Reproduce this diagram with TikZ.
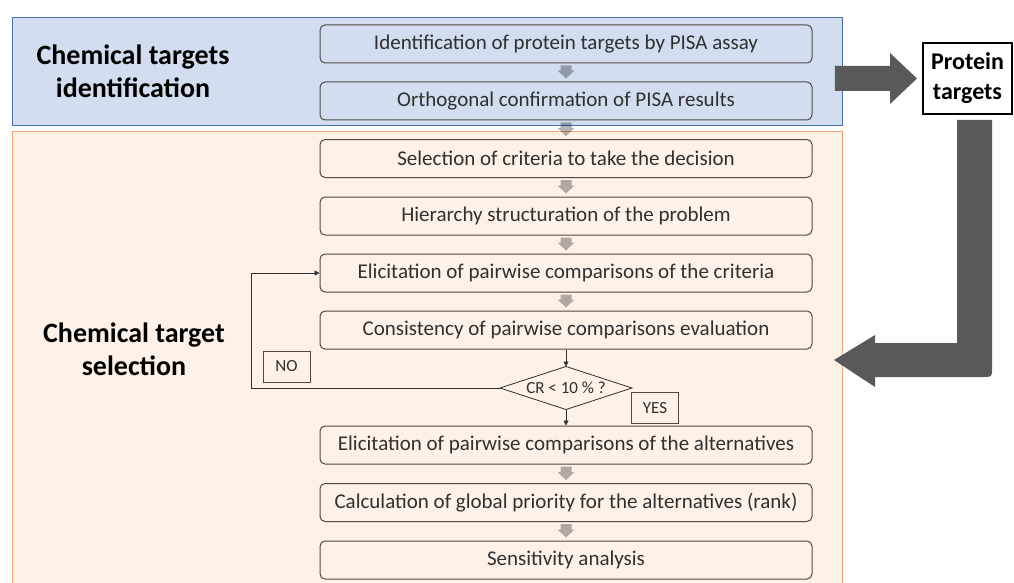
\documentclass[tikz,border=0pt]{standalone}
\usepackage{fontspec}
\setmainfont{Carlito}
\usetikzlibrary{calc,arrows.meta}
\definecolor{bluefill}{HTML}{D2DDF0}
\definecolor{blueline}{HTML}{4A6FB5}
\definecolor{orfill}{HTML}{FDF1E8}
\definecolor{orline}{HTML}{F4A46C}
\definecolor{boxline}{HTML}{4F4A45}
\definecolor{txt}{HTML}{303030}
\definecolor{arrgray}{HTML}{595959}
\tikzset{
  stepbox/.style={draw=boxline, line width=1pt, rounded corners=5pt, minimum width=492pt,
    minimum height=38pt, inner sep=0pt, text=txt, font=\fontsize{21}{25}\selectfont},
  tagbox/.style={draw=boxline, line width=0.8pt, minimum width=47pt, minimum height=31pt,
    inner sep=0pt, text=txt, font=\fontsize{17}{20}\selectfont},
  biglabel/.style={font=\bfseries\fontsize{28}{33}\selectfont, align=center, text=black},
  smallarr/.style={fill=black, fill opacity=0.3},
  bigarr/.style={fill=arrgray},
  flowline/.style={draw=txt, line width=0.8pt},
  tipsmall/.style={-{Triangle[width=5pt,length=5pt]}}
}
\newcommand\downblk[2]{%
  \fill[smallarr] ($(#1)+(-5.5,2)$) -- ($(#1)+(5.5,2)$) -- ($(#2)+(5.5,-11)$)
   -- ($(#2)+(8.5,-11)$) -- ($(#2)+(0,-3)$) -- ($(#2)+(-8.5,-11)$)
   -- ($(#2)+(-5.5,-11)$) -- cycle;}
\begin{document}
\begin{tikzpicture}[x=1pt,y=-1pt]
\useasboundingbox (0,0) rectangle (1014,583);
% regions
\node[draw=blueline, fill=bluefill, line width=0.8pt, minimum width=830pt, minimum height=108pt,
  inner sep=0pt, anchor=north west] (blue) at (12,17) {};
\fill[orfill] (12,131.5) rectangle (842,590);
\draw[orline, line width=0.8pt] (12,590) -- (12,131.5) -- (842,131.5) -- (842,590);
\coordinate (orange) at (842,360);
% labels
\node[biglabel] (lab1) at (133,71.5) {Chemical targets\\identification};
\node[biglabel] (lab2) at (134,349.5) {Chemical target\\selection};
% boxes
\node[stepbox] (b1) at (566,44)    {Identification of protein targets by PISA assay};
\node[stepbox] (b2) at (566,101)   {Orthogonal confirmation of PISA results};
\node[stepbox] (b3) at (566,158.5) {Selection of criteria to take the decision};
\node[stepbox] (b4) at (566,216)   {Hierarchy structuration of the problem};
\node[stepbox] (b5) at (566,273)   {Elicitation of pairwise comparisons of the criteria};
\node[stepbox] (b6) at (566,330)   {Consistency of pairwise comparisons evaluation};
\node[stepbox] (b7) at (566,445)   {Elicitation of pairwise comparisons of the alternatives};
\node[stepbox] (b8) at (566,502.5) {Calculation of global priority for the alternatives (rank)};
\node[stepbox] (b9) at (566,560)   {Sensitivity analysis};
% small block arrows
\downblk{b1.south}{b2.north}
\downblk{b2.south}{b3.north}
\downblk{b3.south}{b4.north}
\downblk{b4.south}{b5.north}
\downblk{b5.south}{b6.north}
\downblk{b7.south}{b8.north}
\downblk{b8.south}{b9.north}
% decision
\node[inner sep=0pt, text=txt, font=\fontsize{17}{20}\selectfont] (cr) at (566,388) {CR < 10 \% ?};
\coordinate (crT) at (566,366.5);
\coordinate (crB) at (566,409.5);
\coordinate (crL) at (500,388);
\coordinate (crR) at (632,388);
\draw[flowline] (crT) -- (crR) -- (crB) -- (crL) -- cycle;
\draw[flowline, tipsmall] (b6.south) -- (crT);
\draw[flowline, tipsmall] (crB) -- (b7.north);
\draw[flowline, tipsmall] (crL) -| ($(b5.west)+(-68,0)$) -- (b5.west);
\node[tagbox] (no) at (286.5,366.5) {NO};
\node[tagbox] (yes) at (655,408) {YES};
% protein targets
\node[draw=black, line width=2pt, fill=white, minimum width=89pt, minimum height=71pt, inner sep=0pt,
  font=\bfseries\fontsize{24}{30}\selectfont, align=center] (prot) at (967.5,78.5) {Protein\\targets};
% big right arrow
\coordinate (ra0) at ($(blue.east |- prot.west)+(-8,0)$);
\coordinate (ra1) at ($(prot.west)+(-5,0)$);
\fill[bigarr] ($(ra0)+(0,-12.5)$) -- ($(ra1)+(-27,-12.5)$) -- ($(ra1)+(-27,-25.5)$) -- (ra1)
  -- ($(ra1)+(-27,25.5)$) -- ($(ra1)+(-27,12.5)$) -- ($(ra0)+(0,12.5)$) -- cycle;
% bent arrow
\coordinate (ba0) at ($(prot.south)+(7,5)$);
\coordinate (ba1) at ($(orange)+(-8,0)$);
\fill[bigarr] ($(ba0)+(-17.5,0)$) -- ($(ba0)+(17.5,0)$) -- ($(ba0 |- ba1)+(17.5,8)$)
  .. controls ($(ba0 |- ba1)+(17.5,17)$) .. ($(ba0 |- ba1)+(8.5,17)$)
  -- ($(ba1)+(41,17)$) -- ($(ba1)+(41,27)$) -- (ba1) -- ($(ba1)+(41,-25)$) -- ($(ba1)+(41,-17)$)
  -- ($(ba0 |- ba1)+(-17.5,-17)$) -- cycle;
\end{tikzpicture}
\end{document}
